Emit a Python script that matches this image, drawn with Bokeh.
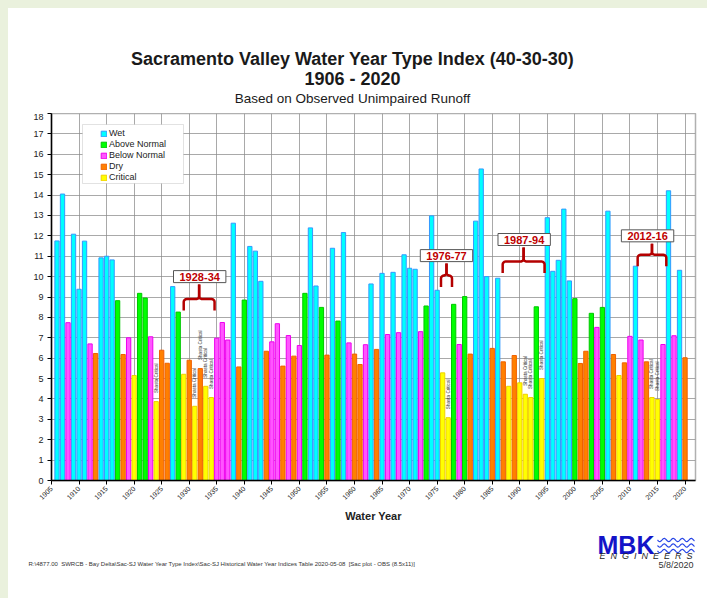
import math
import numpy as np
from bokeh.plotting import figure
from bokeh.layouts import column
from bokeh.models import (ColumnDataSource, Range1d, Label, BoxAnnotation, Legend,
                          LegendItem, FixedTicker)
from bokeh.core.properties import value
from bokeh.embed import file_html
from bokeh.resources import INLINE

FONT = "Liberation Sans"

# ---------------- data ----------------
years = list(range(1906, 2021))
index_values = [
    11.75, 14.05, 7.74, 12.08, 9.38, 11.74, 6.70, 6.23, 10.92, 11.00,   # 1906-1915
    10.82, 8.82, 6.18, 7.00, 5.15, 9.18, 8.95, 7.05, 3.87, 6.39,        # 1916-1925
    5.75, 9.51, 8.26, 5.21, 5.90, 3.64, 5.49, 4.62, 4.07, 6.98,         # 1926-1935
    7.75, 6.89, 12.62, 5.57, 8.85, 11.48, 11.25, 9.77, 6.34, 6.80,      # 1936-1945
    7.69, 5.61, 7.11, 6.10, 6.62, 9.18, 12.39, 9.54, 8.49, 6.15,        # 1946-1955
    11.39, 7.82, 12.16, 6.75, 6.20, 5.69, 6.66, 9.64, 6.43, 10.16,      # 1956-1965
    7.16, 10.21, 7.25, 11.07, 10.41, 10.36, 7.30, 8.56, 12.98, 9.33,    # 1966-1975
    5.28, 3.08, 8.64, 6.67, 9.02, 6.20, 12.72, 15.28, 10.00, 6.48,      # 1976-1985
    9.92, 5.82, 4.62, 6.13, 4.79, 4.23, 4.07, 8.52, 5.00, 12.89,        # 1986-1995
    10.26, 10.80, 13.31, 9.79, 8.92, 5.74, 6.34, 8.20, 7.51, 8.49,      # 1996-2005
    13.21, 6.18, 5.15, 5.77, 7.07, 10.51, 6.89, 5.82, 4.07, 3.97,       # 2006-2015
    6.67, 14.21, 7.10, 10.31, 6.02,                                     # 2016-2020
]
year_types = [
    "W", "W", "BN", "W", "W", "W", "BN", "D", "W", "W",
    "W", "AN", "D", "BN", "C", "AN", "AN", "BN", "C", "D",
    "D", "W", "AN", "C", "D", "C", "D", "C", "C", "BN",
    "BN", "BN", "W", "D", "AN", "W", "W", "W", "D", "BN",
    "BN", "D", "BN", "D", "BN", "AN", "W", "W", "AN", "D",
    "W", "AN", "W", "BN", "D", "D", "BN", "W", "D", "W",
    "BN", "W", "BN", "W", "W", "W", "BN", "AN", "W", "W",
    "C", "C", "AN", "BN", "AN", "D", "W", "W", "W", "D",
    "W", "D", "C", "D", "C", "C", "C", "AN", "C", "W",
    "W", "W", "W", "W", "AN", "D", "D", "AN", "BN", "AN",
    "W", "D", "C", "D", "BN", "W", "BN", "D", "C", "C",
    "BN", "W", "BN", "W", "D",
]
type_codes = ["W", "AN", "BN", "D", "C"]
type_names = ["Wet", "Above Normal", "Below Normal", "Dry", "Critical"]
fill_colors = ["#00FFFF", "#00FF00", "#FF55FF", "#FF8000", "#FFFF00"]
line_colors = ["#3399FF", "#00C800", "#EE00EE", "#F06000", "#F0D000"]

shasta_critical_years = [1924, 1931, 1932, 1933, 1934, 1977, 1991, 1992, 1994, 2014, 2015]
shasta_text = "Shasta Critical"

periods = ["1928-34", "1976-77", "1987-94", "2012-16"]
brace_start = [1929.0, 1975.7, 1986.9, 2011.4]
brace_end = [1934.6, 1977.7, 1994.5, 2016.6]
brace_level = [8.9, 10.05, 10.74, 11.07]
box_x = [1931.9, 1976.7, 1990.8, 2013.2]
box_y = [10.0, 11.03, 11.82, 12.0]

x_ticks = list(range(1905, 2021, 5))
y_ticks = list(range(0, 19))

title1 = "Sacramento Valley Water Year Type Index (40-30-30)"
title2 = "1906 - 2020"
title3 = "Based on Observed Unimpaired Runoff"
footer = ("R:\\4877.00\u00a0\u00a0SWRCB - Bay Delta\\Sac-SJ Water Year Type Index\\Sac-SJ Historical "
          "Water Year Indices Table 2020-05-08\u00a0\u00a0[Sac plot - OBS (8.5x11)]")
date_text = "5/8/2020"
logo_text = "MBK"
logo_sub = "\u00a0\u00a0".join("ENGINEERS")

# ---------------- page geometry (page pixels) ----------------
PAGE_L, PAGE_T, PAGE_R, PAGE_B = 8, 8, 707, 598
FL, FR, FT, FB = 51, 695, 113, 480      # plot frame edges on the page
MAIN_BOTTOM = 530                        # bottom of the main figure on the page
W = PAGE_R - PAGE_L
BORDER_L = FL - PAGE_L
BORDER_R = PAGE_R - FR
X0, X1 = 1905, 2021.9
Y0, Y1 = 0, 18


def px_x(px):
    return X0 + (px - FL) * (X1 - X0) / (FR - FL)


def px_y(py):
    return Y0 + (FB - py) * (Y1 - Y0) / (FB - FT)


def blank_fig(top, bottom, full_width=False):
    # data units = page pixels
    can_free = full_width and ("frame_align" in figure().properties())
    left, right = (PAGE_L, PAGE_R) if can_free else (FL, FR)
    f = figure(width=W, height=bottom - top, x_range=Range1d(left, right),
               y_range=Range1d(bottom, top), output_backend="svg", toolbar_location=None,
               x_axis_type=None, y_axis_type=None,
               min_border_left=left - PAGE_L, min_border_right=PAGE_R - right,
               min_border_top=0, min_border_bottom=0)
    if can_free:
        f.frame_align = False
    f.outline_line_color = None
    f.background_fill_color = "white"
    f.border_fill_color = "white"
    f.grid.visible = False
    return f, left


# ---------------- header ----------------
head, _ = blank_fig(PAGE_T, FT)
head.add_layout(Label(x=352, y=58.5, text=title1, text_align="center", text_baseline="middle",
                      text_font=FONT, text_font_style="bold", text_font_size="18px",
                      text_color="#1a1a1a"))
head.add_layout(Label(x=352, y=78.5, text=title2, text_align="center", text_baseline="middle",
                      text_font=FONT, text_font_style="bold", text_font_size="18px",
                      text_color="#1a1a1a"))
head.add_layout(Label(x=352, y=97.5, text=title3, text_align="center", text_baseline="middle",
                      text_font=FONT, text_font_size="13.5px", text_color="#1a1a1a"))

# ---------------- main chart ----------------
p = figure(width=W, height=MAIN_BOTTOM - FT, x_range=Range1d(X0, X1), y_range=Range1d(Y0, Y1),
           output_backend="svg", toolbar_location=None,
           min_border_left=BORDER_L, min_border_right=BORDER_R,
           min_border_top=0, min_border_bottom=MAIN_BOTTOM - FB)
p.background_fill_color = "white"
p.border_fill_color = "white"
p.outline_line_color = "#B0B0B0"
p.outline_line_width = 1.5

p.xaxis.ticker = FixedTicker(ticks=x_ticks)
p.yaxis.ticker = FixedTicker(ticks=y_ticks)
p.xgrid.ticker = FixedTicker(ticks=x_ticks)
p.ygrid.ticker = FixedTicker(ticks=y_ticks)
p.grid.grid_line_color = "#8C8C8C"
p.grid.grid_line_alpha = 0.75
p.grid.grid_line_width = 1
for ax in (p.xaxis[0], p.yaxis[0]):
    ax.axis_line_color = "black"
    ax.axis_line_width = 1.5
    ax.major_tick_line_color = "black"
    ax.major_tick_in = 0
    ax.major_tick_out = 4
    ax.minor_tick_line_color = None
    ax.major_label_text_font = FONT
    ax.major_label_text_color = "#222222"
p.xaxis.major_label_orientation = math.pi / 4
p.xaxis.major_label_text_font_size = "7px"
p.xaxis.major_label_standoff = 3
p.yaxis.major_label_text_font_size = "9px"
p.yaxis.major_label_standoff = 4
p.xaxis.axis_label = "Water Year"
p.xaxis.axis_label_text_font = FONT
p.xaxis.axis_label_text_font_style = "bold"
p.xaxis.axis_label_text_font_size = "11px"
p.xaxis.axis_label_text_color = "#222222"
p.xaxis.axis_label_standoff = 5

# legend frame
p.add_layout(BoxAnnotation(left=px_x(82), right=px_x(183), top=px_y(124), bottom=px_y(183),
                           fill_color="white", fill_alpha=1, line_color="#A0A0A0", line_width=1))

# bars
legend_items = []
for code, name, fc, lc in zip(type_codes, type_names, fill_colors, line_colors):
    xs = [y for y, t in zip(years, year_types) if t == code]
    vs = [v for v, t in zip(index_values, year_types) if t == code]
    src = ColumnDataSource(dict(x=xs, top=vs))
    r = p.vbar(x="x", top="top", bottom=0, width=0.78, source=src,
               fill_color=fc, line_color=lc, line_width=1)
    legend_items.append(LegendItem(label=name, renderers=[r]))

legend = Legend(items=legend_items, location=(49, 298), padding=0, spacing=1,
                glyph_width=7, glyph_height=7, label_height=10, label_standoff=2,
                label_text_font=FONT, label_text_font_size="9px", label_text_color="#222222",
                border_line_color=None, background_fill_alpha=0)
p.add_layout(legend, "center")

# Shasta critical labels
sc_vals = [v for y, v in zip(years, index_values) if y in shasta_critical_years]
sc_src = ColumnDataSource(dict(x=shasta_critical_years,
                               y=[v + 0.42 for v in sc_vals],
                               t=[shasta_text] * len(shasta_critical_years)))
p.text(x="x", y="y", text="t", source=sc_src, angle=math.pi / 2,
       text_font=value(FONT), text_font_size="4.6px", text_color="#333333",
       text_align="left", text_baseline="middle")

# braces
rx = 3 * (X1 - X0) / (FR - FL)
ry = 3 * (Y1 - Y0) / (FB - FT)
drop = 0.56
a = np.linspace(0, np.pi / 2, 7)
bxs, bys = [], []
for x0, x1, h, by in zip(brace_start, brace_end, brace_level, box_y):
    xm = (x0 + x1) / 2
    tip = by - 0.39
    lx = [x0] + list(x0 + rx - rx * np.cos(a)) + list(xm - rx + rx * np.sin(a)) + [xm]
    ly = [h - drop] + list(h - ry + ry * np.sin(a)) + list(h + ry - ry * np.cos(a)) + [tip]
    rxl = [x1] + list(x1 - rx + rx * np.cos(a)) + list(xm + rx - rx * np.sin(a)) + [xm]
    ryl = [h - drop] + list(h - ry + ry * np.sin(a)) + list(h + ry - ry * np.cos(a)) + [tip]
    bxs += [lx, rxl]
    bys += [ly, ryl]
p.multi_line(xs=bxs, ys=bys, line_color="#B40000", line_width=2.5, line_join="round")

for txt, bx, by in zip(periods, box_x, box_y):
    p.add_layout(Label(x=bx, y=by, text=txt, text_align="center", text_baseline="middle",
                       text_font=FONT, text_font_style="bold", text_font_size="11px",
                       text_color="#C00000", background_fill_color="white",
                       border_line_color="#555555", border_line_width=1, padding=(6, 2)))

# ---------------- footer ----------------
foot, foot_left = blank_fig(MAIN_BOTTOM, PAGE_B, full_width=True)
foot.add_layout(Label(x=max(28, foot_left), y=563.5, text=footer, text_align="left",
                      text_baseline="middle", text_font=FONT, text_font_size="6px",
                      text_color="#333333"))
foot.add_layout(Label(x=693, y=564.5, text=date_text, text_align="right", text_baseline="middle",
                      text_font=FONT, text_font_size="9px", text_color="#333333"))
foot.add_layout(Label(x=597, y=544.5, text=logo_text, text_align="left", text_baseline="middle",
                      text_font=FONT, text_font_style="bold", text_font_size="25px",
                      text_color="#1414C8"))
wx = np.linspace(657, 694, 60)
wave_xs, wave_ys = [], []
for wy in (539.5, 545.0, 550.5):
    wave_xs.append(list(wx))
    wave_ys.append(list(wy + 1.6 * np.sin((wx - 657) * 2 * np.pi / 9.0)))
foot.multi_line(xs=wave_xs, ys=wave_ys, line_color="#2846E6", line_width=1.2)
foot.add_layout(Label(x=645.5, y=555.5, text=logo_sub,
                      text_align="center", text_baseline="middle", text_font=FONT,
                      text_font_style="italic", text_font_size="9px", text_color="#222222"))

layout = column(head, p, foot, spacing=0, styles={"background-color": "white"})

html = file_html(layout, INLINE, title="Sacramento Valley Water Year Type Index")
style = ("<style>html,body{background:#EAF1DD !important;}"
         "body{padding:8px 0 0 8px !important;margin:0 !important;}</style>")
html = html.replace("</head>", style + "</head>", 1)
open("out.html", "w").write(html)
